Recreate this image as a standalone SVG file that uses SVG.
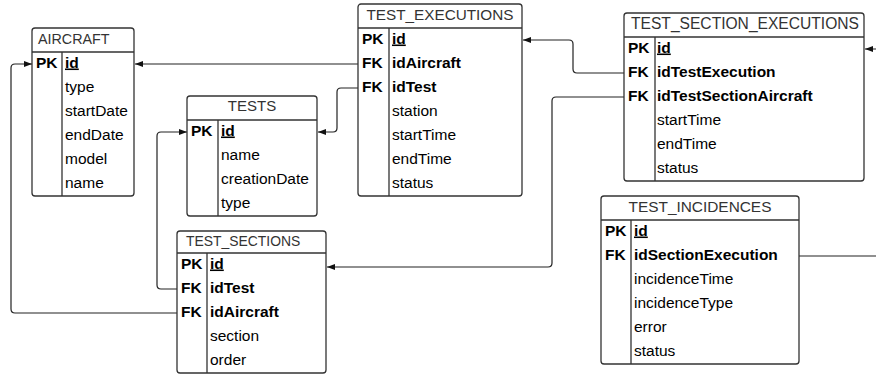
<svg xmlns="http://www.w3.org/2000/svg" width="876" height="375" viewBox="0 0 876 375">
<style>
.box{fill:#fff;stroke:#333;stroke-width:1.3}
.ln{stroke:#333;stroke-width:1.3;fill:none}
.title{font-family:"Liberation Sans",Arial,sans-serif;font-size:15px;fill:#333}
.k{font-family:"Liberation Sans",Arial,sans-serif;font-size:15.5px;font-weight:bold;fill:#000}
.f{font-family:"Liberation Sans",Arial,sans-serif;font-size:15.5px;fill:#000}
.b{font-weight:bold}
.u{text-decoration:underline;font-weight:bold}
.c{fill:none;stroke:#222;stroke-width:1.2}
</style>
<defs>
<marker id="ah" markerUnits="userSpaceOnUse" markerWidth="9" markerHeight="7" refX="8" refY="3" orient="auto">
<path d="M0,0 L8,3 L0,6 z" fill="#111"/>
</marker>
</defs>
<g id="connectors">
<path class="c" d="M358,64 H135" marker-end="url(#ah)"/>
<path class="c" d="M358,88 H341 Q337,88 337,92 V128 Q337,132 333,132 H318" marker-end="url(#ah)"/>
<path class="c" d="M177,289 H161 Q157,289 157,285 V136 Q157,132 161,132 H187" marker-end="url(#ah)"/>
<path class="c" d="M177,313 H15 Q11,313 11,309 V68 Q11,64 15,64 H32" marker-end="url(#ah)"/>
<path class="c" d="M624,73 H577 Q573,73 573,69 V44 Q573,40 569,40 H523" marker-end="url(#ah)"/>
<path class="c" d="M624,97 H556 Q552,97 552,101 V263 Q552,267 548,267 H327" marker-end="url(#ah)"/>
<path class="c" d="M799,256 H900 V49 H865" marker-end="url(#ah)"/>
</g>
<g id="aircraft">
<rect class="box" x="32" y="28" width="102" height="168" rx="3"/>
<path class="ln" d="M32,52 H134 M62,52 V196"/>
<text class="title" x="38" y="44" style="font-size:14.3px">AIRCRAFT</text>
<text class="k" x="36" y="67.5">PK</text>
<text class="f u" x="65" y="67.5">id</text>
<text class="f" x="65" y="91.5">type</text>
<text class="f" x="65" y="115.5">startDate</text>
<text class="f" x="65" y="139.5">endDate</text>
<text class="f" x="65" y="163.5">model</text>
<text class="f" x="65" y="187.5">name</text>
</g>
<g id="tests">
<rect class="box" x="187" y="96" width="130" height="120" rx="3"/>
<path class="ln" d="M187,120 H317 M218,120 V216"/>
<text class="title" x="252" y="111" text-anchor="middle">TESTS</text>
<text class="k" x="191" y="135.5">PK</text>
<text class="f u" x="221" y="135.5">id</text>
<text class="f" x="221" y="159.5">name</text>
<text class="f" x="221" y="183.5">creationDate</text>
<text class="f" x="221" y="207.5">type</text>
</g>
<g id="test_executions">
<rect class="box" x="358" y="4" width="164" height="192" rx="3"/>
<path class="ln" d="M358,28 H522 M389,28 V196"/>
<text class="title" x="440" y="20" text-anchor="middle" style="font-size:15.3px">TEST_EXECUTIONS</text>
<text class="k" x="362" y="43.5">PK</text>
<text class="f u" x="392" y="43.5">id</text>
<text class="k" x="362" y="67.5">FK</text>
<text class="f b" x="392" y="67.5">idAircraft</text>
<text class="k" x="362" y="91.5">FK</text>
<text class="f b" x="392" y="91.5">idTest</text>
<text class="f" x="392" y="115.5">station</text>
<text class="f" x="392" y="139.5">startTime</text>
<text class="f" x="392" y="163.5">endTime</text>
<text class="f" x="392" y="187.5">status</text>
</g>
<g id="test_section_executions">
<rect class="box" x="624" y="13" width="240" height="168" rx="3"/>
<path class="ln" d="M624,37 H864 M655,37 V181"/>
<text class="title" x="745" y="29" text-anchor="middle" style="font-size:15.6px">TEST_SECTION_EXECUTIONS</text>
<text class="k" x="628" y="52.5">PK</text>
<text class="f u" x="657" y="52.5">id</text>
<text class="k" x="628" y="76.5">FK</text>
<text class="f b" x="657" y="76.5">idTestExecution</text>
<text class="k" x="628" y="100.5">FK</text>
<text class="f b" x="657" y="100.5">idTestSectionAircraft</text>
<text class="f" x="657" y="124.5">startTime</text>
<text class="f" x="657" y="148.5">endTime</text>
<text class="f" x="657" y="172.5">status</text>
</g>
<g id="test_sections">
<rect class="box" x="177" y="231" width="149" height="142" rx="3"/>
<path class="ln" d="M177,253 H326 M207,253 V373"/>
<text class="title" x="186" y="246" style="font-size:13.9px">TEST_SECTIONS</text>
<text class="k" x="181" y="268.5">PK</text>
<text class="f u" x="210" y="268.5">id</text>
<text class="k" x="181" y="292.5">FK</text>
<text class="f b" x="210" y="292.5">idTest</text>
<text class="k" x="181" y="316.5">FK</text>
<text class="f b" x="210" y="316.5">idAircraft</text>
<text class="f" x="210" y="340.5">section</text>
<text class="f" x="210" y="364.5">order</text>
</g>
<g id="test_incidences">
<rect class="box" x="601" y="196" width="198" height="168" rx="3"/>
<path class="ln" d="M601,220 H799 M631,220 V364"/>
<text class="title" x="700" y="212" text-anchor="middle" style="font-size:15.4px">TEST_INCIDENCES</text>
<text class="k" x="605" y="235.5">PK</text>
<text class="f u" x="634" y="235.5">id</text>
<text class="k" x="605" y="259.5">FK</text>
<text class="f b" x="634" y="259.5">idSectionExecution</text>
<text class="f" x="634" y="283.5">incidenceTime</text>
<text class="f" x="634" y="307.5">incidenceType</text>
<text class="f" x="634" y="331.5">error</text>
<text class="f" x="634" y="355.5">status</text>
</g>
</svg>
